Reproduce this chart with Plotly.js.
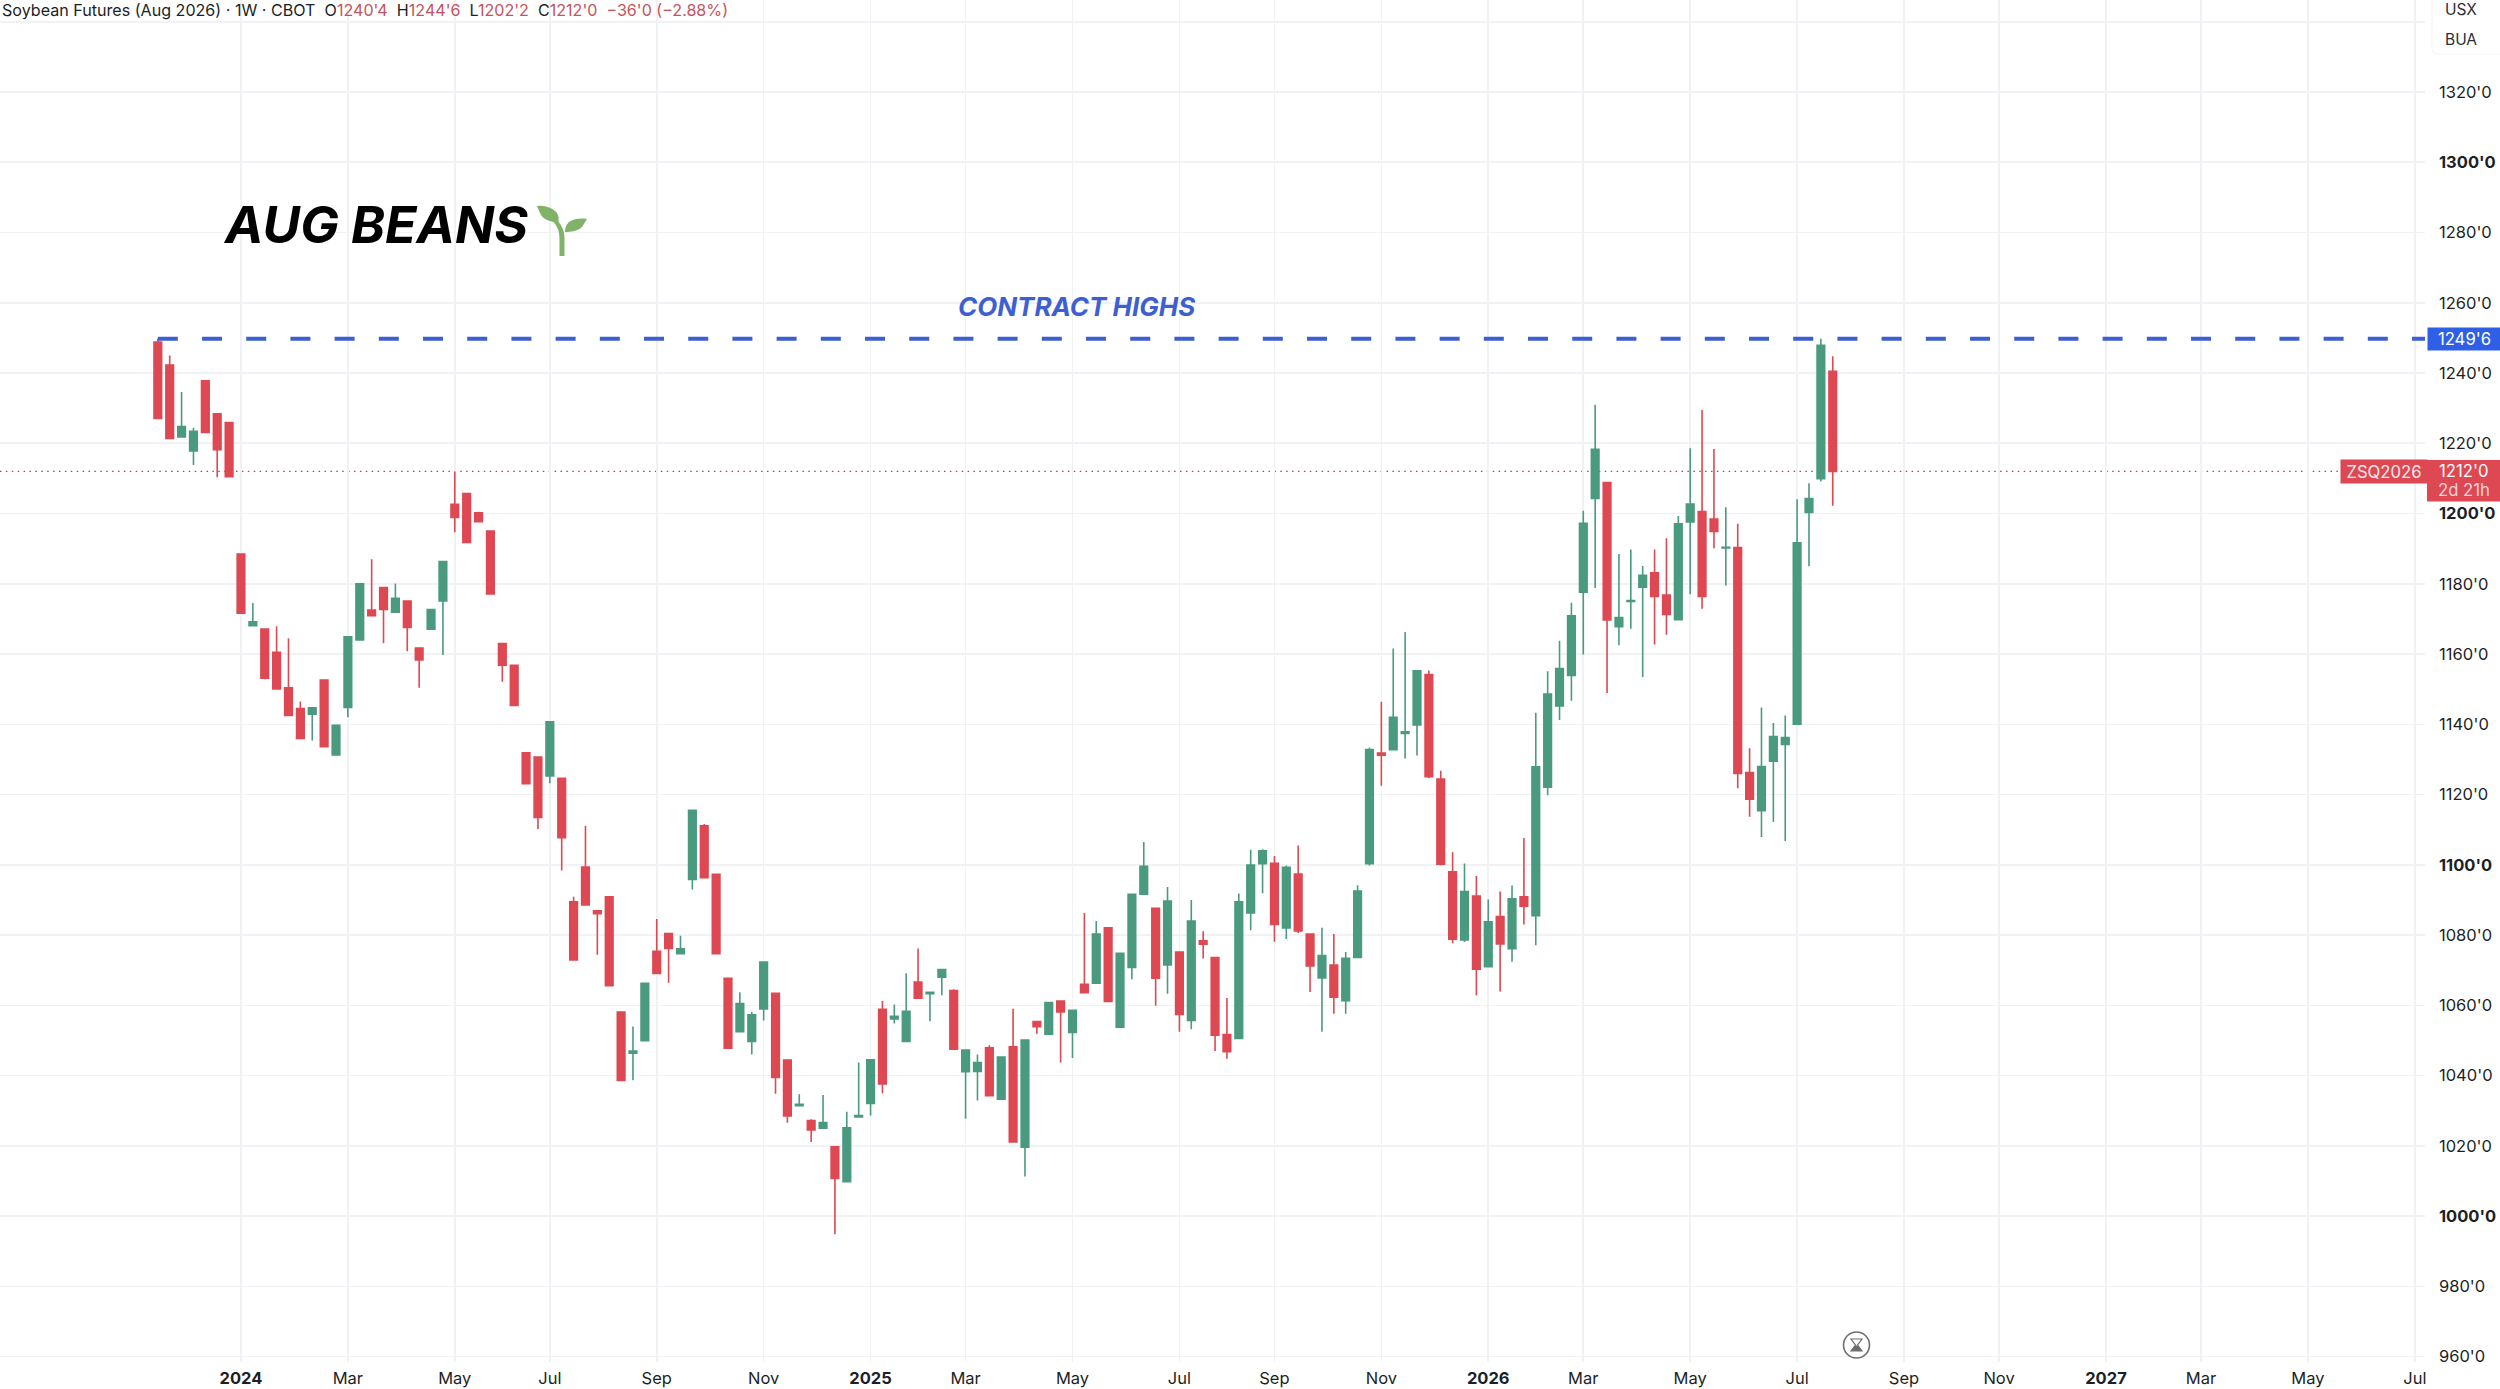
<!DOCTYPE html>
<html>
<head>
<meta charset="utf-8">
<script src="https://cdn.plot.ly/plotly-3.0.1.min.js"></script>
<style>html,body{margin:0;padding:0;background:#fff;overflow:hidden}</style>
</head>
<body>
<div id="chart" style="width:2500px;height:1389px"></div>
<script>
const weeks = [
"2023-11-13","2023-11-20","2023-11-27","2023-12-04","2023-12-11","2023-12-18","2023-12-25",
"2024-01-01","2024-01-08","2024-01-15","2024-01-22","2024-01-29","2024-02-05","2024-02-12","2024-02-19","2024-02-26",
"2024-03-04","2024-03-11","2024-03-18","2024-03-25","2024-04-01","2024-04-08","2024-04-15","2024-04-22","2024-04-29",
"2024-05-06","2024-05-13","2024-05-20","2024-05-27","2024-06-03","2024-06-10","2024-06-17","2024-06-24",
"2024-07-01","2024-07-08","2024-07-15","2024-07-22","2024-07-29","2024-08-05","2024-08-12","2024-08-19","2024-08-26",
"2024-09-02","2024-09-09","2024-09-16","2024-09-23","2024-09-30","2024-10-07","2024-10-14","2024-10-21","2024-10-28",
"2024-11-04","2024-11-11","2024-11-18","2024-11-25","2024-12-02","2024-12-09","2024-12-16","2024-12-23","2024-12-30",
"2025-01-06","2025-01-13","2025-01-20","2025-01-27","2025-02-03","2025-02-10","2025-02-17","2025-02-24",
"2025-03-03","2025-03-10","2025-03-17","2025-03-24","2025-03-31","2025-04-07","2025-04-14","2025-04-21","2025-04-28",
"2025-05-05","2025-05-12","2025-05-19","2025-05-26","2025-06-02","2025-06-09","2025-06-16","2025-06-23","2025-06-30",
"2025-07-07","2025-07-14","2025-07-21","2025-07-28","2025-08-04","2025-08-11","2025-08-18","2025-08-25",
"2025-09-01","2025-09-08","2025-09-15","2025-09-22","2025-09-29","2025-10-06","2025-10-13","2025-10-20","2025-10-27",
"2025-11-03","2025-11-10","2025-11-17","2025-11-24","2025-12-01","2025-12-08","2025-12-15","2025-12-22","2025-12-29",
"2026-01-05","2026-01-12","2026-01-19","2026-01-26","2026-02-02","2026-02-09","2026-02-16","2026-02-23",
"2026-03-02","2026-03-09","2026-03-16","2026-03-23","2026-03-30","2026-04-06","2026-04-13","2026-04-20","2026-04-27",
"2026-05-04","2026-05-11","2026-05-18","2026-05-25","2026-06-01","2026-06-08","2026-06-15","2026-06-22","2026-06-29",
"2026-07-06","2026-07-13","2026-07-20","2026-07-27"];

const opens = [1248.8,1242.3,1221.8,1217.8,1237.8,1228.4,1225.9,1188.5,1168.1,1167.1,1160.5,1150.4,1144.5,1142.9,1152.6,1131.3,1144.8,1164,1172.5,1178.9,1171.9,1175.1,1161.7,1167.1,1175.1,1202.6,1205.7,1200.2,1195,1163,1156.8,1131.9,1130.7,1125.3,1124.6,1089.5,1099.4,1086.9,1090.9,1058.1,1046.4,1049.9,1075.4,1080.4,1074.7,1095.8,1111.1,1097.3,1067.7,1052.5,1049.7,1059,1063.4,1044.4,1031.4,1027.2,1025,1019.7,1009.8,1028.2,1032.1,1058.9,1056.1,1049.7,1066.6,1063.3,1068,1064.2,1041.1,1041.2,1047.9,1033.3,1048.2,1019.6,1055.4,1051.8,1061.2,1052.3,1066,1066.3,1082.1,1053.8,1070.8,1091.6,1087.6,1071.5,1075.2,1055.7,1078.4,1073.6,1051.7,1050.6,1086.3,1100.3,1100.4,1082,1097.4,1080.3,1067.8,1071.5,1061.3,1073.6,1100.3,1131.8,1132.8,1137.4,1139.8,1154.2,1124.4,1098,1078.6,1091.1,1071,1085.3,1076.1,1090.9,1085.5,1122.1,1145.2,1153.9,1177.6,1204.3,1208.8,1167.8,1175,1179,1183.1,1176.8,1169.8,1197.6,1200.6,1198.4,1190.2,1190.3,1126.3,1115.4,1129.5,1134.3,1140,1200.3,1209.9,1240.5];

const highs = [1249.75,1245,1234.6,1224.4,1237.8,1228.4,1225.9,1188.5,1174.5,1167.1,1167.9,1164.5,1146.5,1144.7,1152.6,1139.7,1164.9,1180,1187,1178.9,1180.1,1175.1,1161.7,1172.7,1186.3,1212,1205.7,1200.5,1195,1163,1156.8,1131.9,1130.7,1140.7,1124.6,1090.9,1111.1,1086.9,1090.9,1058.1,1054,1066.3,1084.6,1080.4,1079.8,1115.5,1111.6,1097.3,1067.7,1063.7,1058.2,1072.3,1063.4,1044.4,1034.7,1027.6,1034.5,1019.7,1029.7,1043.7,1044.5,1061.2,1060.2,1069.1,1076.2,1063.7,1070.2,1064.6,1047.3,1046,1048.6,1045.3,1059,1050.1,1055.4,1060.8,1061.2,1058.6,1086.3,1084,1082.1,1074.8,1091.6,1106.5,1087.8,1093.7,1075.2,1090,1081.1,1073.6,1062.1,1091.8,1104.3,1104.4,1102.5,1099.8,1105.5,1080.3,1082.1,1080.3,1075.2,1094.2,1133.4,1146.4,1161.6,1166.3,1155.2,1155.3,1126.8,1103.6,1100.4,1096.8,1090.1,1092.4,1094.1,1107.6,1143.3,1155.1,1163.8,1174.6,1200.8,1231,1208.8,1188.5,1189.8,1185.1,1189.8,1193,1199.3,1218.6,1229.5,1218.4,1201.8,1197.1,1133.2,1144.8,1140.4,1142.5,1204.1,1208.6,1249.75,1244.75];

const lows = [1227.1,1221.4,1221.8,1213.8,1223.1,1210.3,1210.5,1171.6,1168.1,1152.8,1150.1,1142.5,1136,1135.4,1133.6,1131.3,1142,1164,1170.9,1163.1,1171.9,1160.8,1150.4,1167.1,1159.7,1194.7,1191.8,1197.7,1177.1,1152.1,1145.4,1123.1,1110.2,1123.2,1098.4,1072.9,1088.6,1074.4,1065.6,1038.6,1038.7,1049.9,1069.1,1066.4,1074.7,1093,1096.3,1074.7,1047.8,1052.5,1046,1055.7,1034.8,1026.6,1031.4,1021.1,1025,994.8,1009.8,1028.2,1028.6,1035,1054.8,1049.7,1062,1055.5,1062.9,1047.5,1027.7,1032.9,1034.3,1033.3,1021.1,1011.3,1051.9,1051.8,1043.7,1045,1063.6,1066.3,1061.1,1053.8,1067.4,1091.6,1059.9,1063.3,1052.5,1053.2,1073.3,1047,1044.8,1050.6,1081.4,1091.9,1078.1,1078.9,1080.6,1063.8,1052.5,1057.6,1057.6,1073.6,1099.8,1122.5,1132.8,1130.3,1131.1,1124.7,1099.9,1077.7,1078,1062.9,1071,1063.9,1072.4,1083,1077.1,1119.8,1141.2,1146.7,1159.9,1178.8,1148.9,1162.5,1167.2,1153.5,1162.7,1165.5,1169.8,1177,1172.9,1190.1,1179.5,1121.8,1113.7,1107.9,1112.2,1106.8,1140,1185,1209.1,1202.25];

const closes = [1227.1,1221.4,1224.8,1223.4,1223.1,1218.2,1210.5,1171.6,1169.2,1153.1,1150.1,1142.5,1136,1144.7,1133.6,1139.7,1164.9,1180,1170.9,1172.7,1175.9,1167.6,1158.3,1172.7,1186.3,1198.9,1191.8,1197.7,1177.1,1156.8,1145.4,1123.1,1113.5,1140.7,1107.7,1072.9,1088.6,1086.1,1065.6,1038.6,1047,1066.3,1069.1,1076.2,1076.1,1115.5,1096.3,1074.7,1047.8,1060.5,1057.3,1072.3,1039.5,1028.5,1031.8,1024.5,1026.6,1010.7,1025.1,1028.6,1044.5,1037.6,1056.9,1058.3,1062,1063.7,1070.2,1047.5,1047.3,1043.7,1034.3,1045.3,1021.1,1050.1,1053.9,1060.8,1058.1,1058.6,1063.6,1080.3,1061.1,1074.8,1091.6,1099.6,1067.7,1089.7,1057.4,1084,1077.4,1051.5,1046.8,1089.5,1099.9,1104,1083,1099.3,1081.2,1071.2,1074.2,1062.3,1073.4,1092.5,1132.8,1131.2,1142,1137.9,1155.2,1125.1,1100.2,1078.8,1092.4,1070.3,1083.8,1077.5,1090.3,1088.2,1127.9,1148.6,1155.9,1170.9,1197.2,1218.3,1169.7,1170.4,1175.2,1182.4,1176.4,1171.3,1197.1,1202.7,1176.4,1194.9,1190.4,1126,1118.7,1128,1136.5,1136.2,1191.7,1204.3,1247.9,1212];

const xTickDates = ["2024-01-01","2024-03-04","2024-05-06","2024-07-01","2024-09-02","2024-11-04","2025-01-06","2025-03-03","2025-05-05","2025-07-07","2025-09-01","2025-11-03","2026-01-05","2026-03-02","2026-05-04","2026-07-06","2026-09-07","2026-11-02","2027-01-04","2027-03-01","2027-05-03","2027-07-05"];
const xTickLabels = ["<b>2024</b>","Mar","May","Jul","Sep","Nov","<b>2025</b>","Mar","May","Jul","Sep","Nov","<b>2026</b>","Mar","May","Jul","Sep","Nov","<b>2027</b>","Mar","May","Jul"];
const yTickValues = [960,980,1000,1020,1040,1060,1080,1100,1120,1140,1160,1180,1200,1220,1240,1260,1280,1300,1320,1340];
const yTickLabels = ["960'0","980'0","<b>1000'0</b>","1020'0","1040'0","1060'0","1080'0","<b>1100'0</b>","1120'0","1140'0","1160'0","1180'0","<b>1200'0</b>","1220'0","1240'0","1260'0","1280'0","<b>1300'0</b>","1320'0",""];

const contractHigh = 1249.75;
const contractHighLabel = "1249'6";
const lastPrice = 1212;
const lastPriceLabel = "1212'0";
const countdownLabel = "2d 21h";
const symbolLabel = "ZSQ2026";
const titleText = "AUG BEANS";
const highsText = "CONTRACT HIGHS";

const RED = "#dd4852", GREEN = "#4a9a80", BLUE = "#3e5fd2", BADGE_BLUE = "#2f5fe6", HEADER_RED = "#c4545c", LEAF = "#80b268";
const FONT = "Inter, 'Noto Sans', sans-serif";
const W = 2425, H = 1362;
const X = px => px / W;
const Y = py => 1 - py / H;
const pt = (x, y) => X(x).toFixed(5) + "," + Y(y).toFixed(5);

function path(str) {
  return str.replace(/(-?[\d.]+) (-?[\d.]+)/g, (m, a, b) => pt(+a, +b));
}

const trace = {
  type: "candlestick",
  x: weeks, open: opens, high: highs, low: lows, close: closes,
  whiskerwidth: 0,
  increasing: {line: {color: GREEN, width: 1.6}, fillcolor: GREEN},
  decreasing: {line: {color: RED, width: 1.6}, fillcolor: RED},
  hoverinfo: "skip",
  showlegend: false
};

const header =
  "Soybean Futures (Aug 2026) · 1W · CBOT\u00a0\u00a0O<span style='color:" + HEADER_RED + "'>1240'4</span>\u00a0\u00a0H<span style='color:" + HEADER_RED + "'>1244'6</span>\u00a0\u00a0L<span style='color:" + HEADER_RED + "'>1202'2</span>\u00a0\u00a0C<span style='color:" + HEADER_RED + "'>1212'0\u00a0\u00a0−36'0 (−2.88%)</span>";

const layout = {
  width: 2500, height: 1389, autosize: false,
  paper_bgcolor: "#ffffff", plot_bgcolor: "#ffffff",
  margin: {l: 0, r: 75, t: 0, b: 27, pad: 0},
  showlegend: false, hovermode: false, dragmode: false,
  boxgap: 0.36, boxgroupgap: 0,
  font: {family: FONT, size: 16, color: "#1c1f26"},
  xaxis: {
    type: "date", range: ["2023-08-12", "2027-07-11"],
    rangeslider: {visible: false},
    tickmode: "array", tickvals: xTickDates, ticktext: xTickLabels,
    tickangle: 0, ticks: "outside", ticklen: 1, tickcolor: "rgba(0,0,0,0)", showline: false, zeroline: false,
    showgrid: true, gridcolor: "#f0f2f6", gridwidth: 1.6,
    tickfont: {family: FONT, size: 16.5, color: "#1c1f26"}, automargin: false
  },
  yaxis: {
    side: "right", type: "linear", range: [958.46, 1346.2],
    tickmode: "array", tickvals: yTickValues, ticktext: yTickLabels,
    ticks: "", showline: false, zeroline: false,
    showgrid: true, gridcolor: "#f0f2f6", gridwidth: 1.6,
    tickfont: {family: FONT, size: 16.5, color: "#1c1f26"}, automargin: false,
    ticklabelstandoff: 13
  },
  shapes: [
    {type: "line", xref: "paper", yref: "y", x0: 0, x1: X(2340), y0: lastPrice, y1: lastPrice,
     line: {color: "#a8474f", width: 1.4, dash: "1.5px,4.4px"}, layer: "below"},
    {type: "line", xref: "x", yref: "y", x0: weeks[0], x1: "2027-07-12", y0: contractHigh, y1: contractHigh,
     line: {color: BLUE, width: 4, dash: "20px,24.2px"}},
    {type: "path", xref: "paper", yref: "paper", layer: "above", line: {width: 1, color: "#f3f4f6"}, fillcolor: "#ffffff",
     path: path("M 2432 -4 L 2432 47 Q 2432 54 2439 54 L 2506 54 L 2506 -4 Z")},
    // price badge behind the last-price text
    {type: "rect", xref: "paper", yref: "paper", x0: X(2427), x1: X(2500), y0: Y(460), y1: Y(501.5),
     line: {width: 0}, fillcolor: RED},
    // seedling
    {type: "path", xref: "paper", yref: "paper", line: {width: 0}, fillcolor: LEAF,
     path: path("M 559.5 256 L 564.5 256 L 564.5 238 C 564.5 230 561 224 555 218 L 553 221 C 557 226 559.5 231 559.5 238 Z")},
    {type: "path", xref: "paper", yref: "paper", line: {width: 0}, fillcolor: LEAF,
     path: path("M 537 206 C 545 205 553 208 557 213 C 559 216 559 220 558 223 C 552 222 544 220 541 215 Z")},
    {type: "path", xref: "paper", yref: "paper", line: {width: 0}, fillcolor: LEAF,
     path: path("M 587 219 C 581 218 573 219 569 222 C 566 225 565 228 565 232 C 571 232 578 231 582 227 Z")},
    // hourglass icon
    {type: "circle", xref: "paper", yref: "paper", x0: X(1843.5), x1: X(1869.5), y0: Y(1332), y1: Y(1358),
     line: {color: "#6e6e6e", width: 1.6}, fillcolor: "#ffffff"},
    {type: "path", xref: "paper", yref: "paper", line: {color: "#6e6e6e", width: 1.2}, fillcolor: "rgba(0,0,0,0)",
     path: path("M 1851 1339 L 1862 1339 L 1857.5 1345 L 1862 1351 L 1851 1351 L 1855.5 1345 Z")},
    {type: "path", xref: "paper", yref: "paper", line: {width: 0}, fillcolor: "#6e6e6e",
     path: path("M 1851 1351 L 1862 1351 L 1858 1345.5 L 1855 1345.5 Z")}
  ],
  annotations: [
    {xref: "paper", yref: "paper", x: X(0), y: Y(10), xanchor: "left", yanchor: "middle", showarrow: false,
     text: header, font: {family: FONT, size: 16.1, color: "#1c1f26"}, align: "left"},
    {xref: "paper", yref: "paper", x: X(221), y: Y(223.5), xanchor: "left", yanchor: "middle", showarrow: false,
     text: "<b><i>" + titleText + "</i></b>", font: {family: FONT, size: 51.5, color: "#000000"}},
    {xref: "paper", yref: "paper", x: X(956), y: Y(306.5), xanchor: "left", yanchor: "middle", showarrow: false,
     text: "<b><i>" + highsText + "</i></b>", font: {family: FONT, size: 26, color: BLUE}},
    {xref: "paper", yref: "y", x: X(2427), y: contractHigh, xanchor: "left", yanchor: "middle", showarrow: false,
     text: contractHighLabel, width: 73, height: 22, bgcolor: BADGE_BLUE, borderpad: 0, align: "center",
     font: {family: FONT, size: 16.7, color: "#ffffff"}},
    {xref: "paper", yref: "y", x: X(2340), y: lastPrice, xanchor: "left", yanchor: "middle", showarrow: false,
     text: symbolLabel, width: 86, height: 23, bgcolor: RED, borderpad: 0, align: "center",
     font: {family: FONT, size: 16.7, color: "#ffe9ea"}},
    {xref: "paper", yref: "y", x: X(2463.5), y: lastPrice, xanchor: "center", yanchor: "middle", showarrow: false,
     text: lastPriceLabel, font: {family: FONT, size: 16.7, color: "#ffffff"}},
    {xref: "paper", yref: "paper", x: X(2463.5), y: Y(490.5), xanchor: "center", yanchor: "middle", showarrow: false,
     text: countdownLabel, font: {family: FONT, size: 16.7, color: "#ffd3d6"}},
    {xref: "paper", yref: "paper", x: X(2443), y: Y(10), xanchor: "left", yanchor: "middle", showarrow: false,
     text: "USX", font: {family: FONT, size: 15.5, color: "#2a2e39"}},
    {xref: "paper", yref: "paper", x: X(2443), y: Y(39), xanchor: "left", yanchor: "middle", showarrow: false,
     text: "BUA", font: {family: FONT, size: 15.5, color: "#2a2e39"}}
  ]
};

Plotly.newPlot("chart", [trace], layout, {displayModeBar: false, staticPlot: true, responsive: false});
</script>
</body>
</html>
